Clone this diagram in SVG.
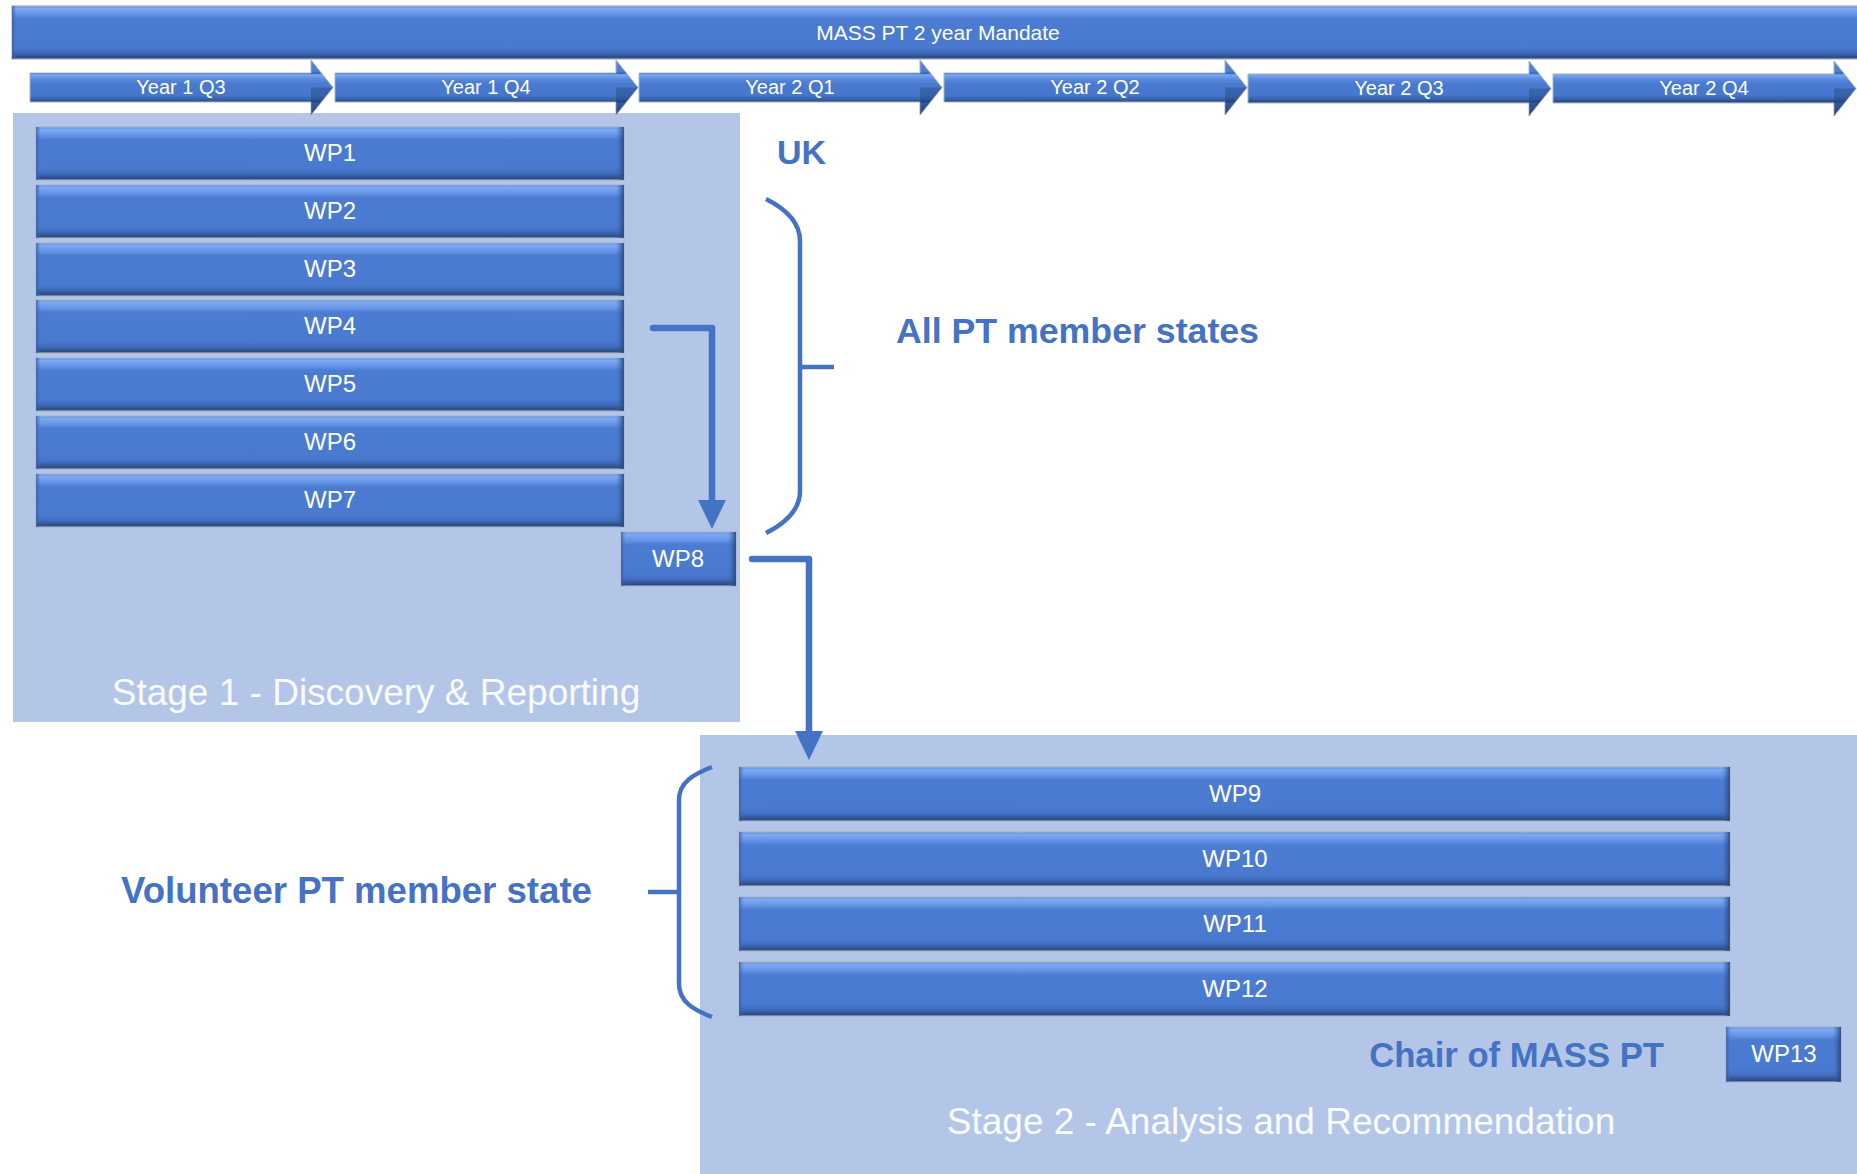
<svg xmlns="http://www.w3.org/2000/svg" width="1857" height="1174" viewBox="0 0 1857 1174">
  <defs>
    <!-- bevelled bar fill -->
    <linearGradient id="gBar" x1="0" y1="0" x2="0" y2="1">
      <stop offset="0" stop-color="#5D8DDF"/>
      <stop offset="0.05" stop-color="#7DAAF4"/>
      <stop offset="0.15" stop-color="#6795E8"/>
      <stop offset="0.24" stop-color="#4C7CD2"/>
      <stop offset="0.78" stop-color="#4A7AD0"/>
      <stop offset="0.88" stop-color="#3F6CBF"/>
      <stop offset="0.95" stop-color="#2F5290"/>
      <stop offset="1" stop-color="#2A4678"/>
    </linearGradient>
    <linearGradient id="gEdgeR" x1="0" y1="0" x2="1" y2="0">
      <stop offset="0" stop-color="#3A66B5" stop-opacity="0"/>
      <stop offset="1" stop-color="#223D70" stop-opacity="0.85"/>
    </linearGradient>
    <linearGradient id="gEdgeL" x1="0" y1="0" x2="1" y2="0">
      <stop offset="0" stop-color="#2C4C88" stop-opacity="0.7"/>
      <stop offset="1" stop-color="#4A7AD0" stop-opacity="0"/>
    </linearGradient>
    <!-- timeline arrow fill, spans the head height 60..115 -->
    <linearGradient id="gArrow" gradientUnits="userSpaceOnUse" x1="0" y1="60" x2="0" y2="115">
      <stop offset="0" stop-color="#5283D8"/>
      <stop offset="0.22" stop-color="#4D7ED4"/>
      <stop offset="0.236" stop-color="#2F5496"/>
      <stop offset="0.27" stop-color="#7AA8F2"/>
      <stop offset="0.34" stop-color="#5C8CE2"/>
      <stop offset="0.43" stop-color="#4A7AD0"/>
      <stop offset="0.64" stop-color="#4777CD"/>
      <stop offset="0.72" stop-color="#355FA8"/>
      <stop offset="0.764" stop-color="#2A4677"/>
      <stop offset="0.78" stop-color="#3D67B2"/>
      <stop offset="1" stop-color="#2E4F8C"/>
    </linearGradient>
    <marker id="arrowHead" markerUnits="userSpaceOnUse" markerWidth="30" markerHeight="30" refX="0" refY="13" orient="auto" viewBox="0 0 28 26">
      <path d="M0,0 L27,13 L0,26 Z" fill="#4472C4"/>
    </marker>
  </defs>
  <style>
    .bar { fill: url(#gBar); stroke: #A7B3C6; stroke-width: 1.2; }
    .edgeR { fill: url(#gEdgeR); }
    .edgeL { fill: url(#gEdgeL); }
    .tl { fill: url(#gArrow); stroke: #A7B3C6; stroke-width: 1; }
    .tlShade { fill: #1F3A6C; opacity: 0.35; }
    .wp { font-family: "Liberation Sans", Arial, sans-serif; font-size: 24px; fill: #FFFFFF; text-anchor: middle; }
    .tlText { font-family: "Liberation Sans", Arial, sans-serif; font-size: 20px; fill: #FFFFFF; text-anchor: middle; }
    .title { font-family: "Liberation Sans", Arial, sans-serif; font-size: 21px; fill: #FFFFFF; text-anchor: middle; }
    .stage { fill: #B4C6E7; }
    .stageLabel { font-family: "Liberation Sans", Arial, sans-serif; font-size: 37px; fill: #F8FAFD; text-anchor: middle; }
    .note { font-family: "Liberation Sans", Arial, sans-serif; font-weight: bold; fill: #4472C4; }
    .conn { fill: none; stroke: #4472C4; stroke-width: 6.5; stroke-linecap: round; stroke-linejoin: round; }
    .brace { fill: none; stroke: #4472C4; stroke-width: 4.5; }
  </style>

  <rect width="1857" height="1174" fill="#FFFFFF"/>

  <!-- stage panels -->
  <g id="stage1">
    <rect class="stage" x="13" y="113" width="727" height="609"/>
    <text class="stageLabel" x="376" y="705">Stage 1 - Discovery &amp; Reporting</text>
  </g>
  <g id="stage2">
    <rect class="stage" x="700" y="735" width="1157" height="439"/>
    <text class="stageLabel" x="1281" y="1134">Stage 2 - Analysis and Recommendation</text>
  </g>

  <!-- mandate bar -->
  <g id="mandate">
    <rect class="bar" x="12" y="6" width="1850" height="53"/>
    <rect class="edgeL" x="12" y="6" width="5" height="53"/>
    <text class="title" x="938" y="40">MASS PT 2 year Mandate</text>
  </g>

  <!-- quarter timeline -->
  <g id="q1">
    <polygon class="tl" points="30,73 311,73 311,60 333,87.5 311,115 311,102 30,102"/>
    <polygon class="tlShade" points="311,87.5 333,87.5 311,115"/>
    <text class="tlText" x="181" y="94">Year 1 Q3</text>
  </g>
  <g id="q2">
    <polygon class="tl" points="335,73 616,73 616,60 638,87.5 616,115 616,102 335,102"/>
    <polygon class="tlShade" points="616,87.5 638,87.5 616,115"/>
    <text class="tlText" x="486" y="94">Year 1 Q4</text>
  </g>
  <g id="q3">
    <polygon class="tl" points="639,73 920,73 920,60 942,87.5 920,115 920,102 639,102"/>
    <polygon class="tlShade" points="920,87.5 942,87.5 920,115"/>
    <text class="tlText" x="790" y="94">Year 2 Q1</text>
  </g>
  <g id="q4">
    <polygon class="tl" points="944,73 1225,73 1225,60 1247,87.5 1225,115 1225,102 944,102"/>
    <polygon class="tlShade" points="1225,87.5 1247,87.5 1225,115"/>
    <text class="tlText" x="1095" y="94">Year 2 Q2</text>
  </g>
  <g id="q5">
    <polygon class="tl" points="1248,74 1529,74 1529,61 1551,88.5 1529,116 1529,103 1248,103"/>
    <polygon class="tlShade" points="1529,88.5 1551,88.5 1529,116"/>
    <text class="tlText" x="1399" y="95">Year 2 Q3</text>
  </g>
  <g id="q6">
    <polygon class="tl" points="1553,74 1834,74 1834,61 1856,88.5 1834,116 1834,103 1553,103"/>
    <polygon class="tlShade" points="1834,88.5 1856,88.5 1834,116"/>
    <text class="tlText" x="1704" y="95">Year 2 Q4</text>
  </g>

  <!-- stage 1 work packages -->
  <g id="wp1">
    <rect class="bar" x="36" y="127" width="588" height="53"/>
    <rect class="edgeL" x="36" y="127" width="5" height="53"/><rect class="edgeR" x="616" y="127" width="8" height="53"/>
    <text class="wp" x="330" y="161">WP1</text>
  </g>
  <g id="wp2">
    <rect class="bar" x="36" y="185" width="588" height="53"/>
    <rect class="edgeL" x="36" y="185" width="5" height="53"/><rect class="edgeR" x="616" y="185" width="8" height="53"/>
    <text class="wp" x="330" y="219">WP2</text>
  </g>
  <g id="wp3">
    <rect class="bar" x="36" y="243" width="588" height="53"/>
    <rect class="edgeL" x="36" y="243" width="5" height="53"/><rect class="edgeR" x="616" y="243" width="8" height="53"/>
    <text class="wp" x="330" y="277">WP3</text>
  </g>
  <g id="wp4">
    <rect class="bar" x="36" y="300" width="588" height="53"/>
    <rect class="edgeL" x="36" y="300" width="5" height="53"/><rect class="edgeR" x="616" y="300" width="8" height="53"/>
    <text class="wp" x="330" y="334">WP4</text>
  </g>
  <g id="wp5">
    <rect class="bar" x="36" y="358" width="588" height="53"/>
    <rect class="edgeL" x="36" y="358" width="5" height="53"/><rect class="edgeR" x="616" y="358" width="8" height="53"/>
    <text class="wp" x="330" y="392">WP5</text>
  </g>
  <g id="wp6">
    <rect class="bar" x="36" y="416" width="588" height="53"/>
    <rect class="edgeL" x="36" y="416" width="5" height="53"/><rect class="edgeR" x="616" y="416" width="8" height="53"/>
    <text class="wp" x="330" y="450">WP6</text>
  </g>
  <g id="wp7">
    <rect class="bar" x="36" y="474" width="588" height="53"/>
    <rect class="edgeL" x="36" y="474" width="5" height="53"/><rect class="edgeR" x="616" y="474" width="8" height="53"/>
    <text class="wp" x="330" y="508">WP7</text>
  </g>
  <g id="wp8">
    <rect class="bar" x="621" y="532" width="115" height="54"/>
    <rect class="edgeL" x="621" y="532" width="5" height="54"/><rect class="edgeR" x="728" y="532" width="8" height="54"/>
    <text class="wp" x="678" y="567">WP8</text>
  </g>

  <!-- stage 2 work packages -->
  <g id="wp9">
    <rect class="bar" x="739" y="767" width="991" height="54"/>
    <rect class="edgeL" x="739" y="767" width="5" height="54"/><rect class="edgeR" x="1722" y="767" width="8" height="54"/>
    <text class="wp" x="1235" y="802">WP9</text>
  </g>
  <g id="wp10">
    <rect class="bar" x="739" y="832" width="991" height="54"/>
    <rect class="edgeL" x="739" y="832" width="5" height="54"/><rect class="edgeR" x="1722" y="832" width="8" height="54"/>
    <text class="wp" x="1235" y="867">WP10</text>
  </g>
  <g id="wp11">
    <rect class="bar" x="739" y="897" width="991" height="54"/>
    <rect class="edgeL" x="739" y="897" width="5" height="54"/><rect class="edgeR" x="1722" y="897" width="8" height="54"/>
    <text class="wp" x="1235" y="932">WP11</text>
  </g>
  <g id="wp12">
    <rect class="bar" x="739" y="962" width="991" height="54"/>
    <rect class="edgeL" x="739" y="962" width="5" height="54"/><rect class="edgeR" x="1722" y="962" width="8" height="54"/>
    <text class="wp" x="1235" y="997">WP12</text>
  </g>
  <g id="wp13">
    <rect class="bar" x="1726" y="1027" width="115" height="55"/>
    <rect class="edgeL" x="1726" y="1027" width="5" height="55"/><rect class="edgeR" x="1833" y="1027" width="8" height="55"/>
    <text class="wp" x="1784" y="1062">WP13</text>
  </g>

  <!-- connectors -->
  <g id="connectors">
    <path class="conn" d="M653,328 H712 V500" marker-end="url(#arrowHead)"/>
    <path class="conn" d="M752,559 H809 V731" marker-end="url(#arrowHead)"/>
  </g>

  <!-- responsibility braces and labels -->
  <g id="braceAll">
    <path class="brace" d="M766,199 C786,209 800,222 800,241 V491 C800,510 786,523 766,533"/>
    <path class="brace" d="M800,367 H834"/>
  </g>
  <g id="braceVolunteer">
    <path class="brace" d="M712,767 C694,774 679,782 679,800 V984 C679,1002 694,1010 712,1017"/>
    <path class="brace" d="M648,892 H679"/>
  </g>
  <text class="note" x="777" y="164" font-size="34">UK</text>
  <text class="note" x="896" y="343" font-size="35.7">All PT member states</text>
  <text class="note" x="121" y="903" font-size="36.6">Volunteer PT member state</text>
  <text class="note" x="1664" y="1067" font-size="34.7" text-anchor="end">Chair of MASS PT</text>
</svg>
